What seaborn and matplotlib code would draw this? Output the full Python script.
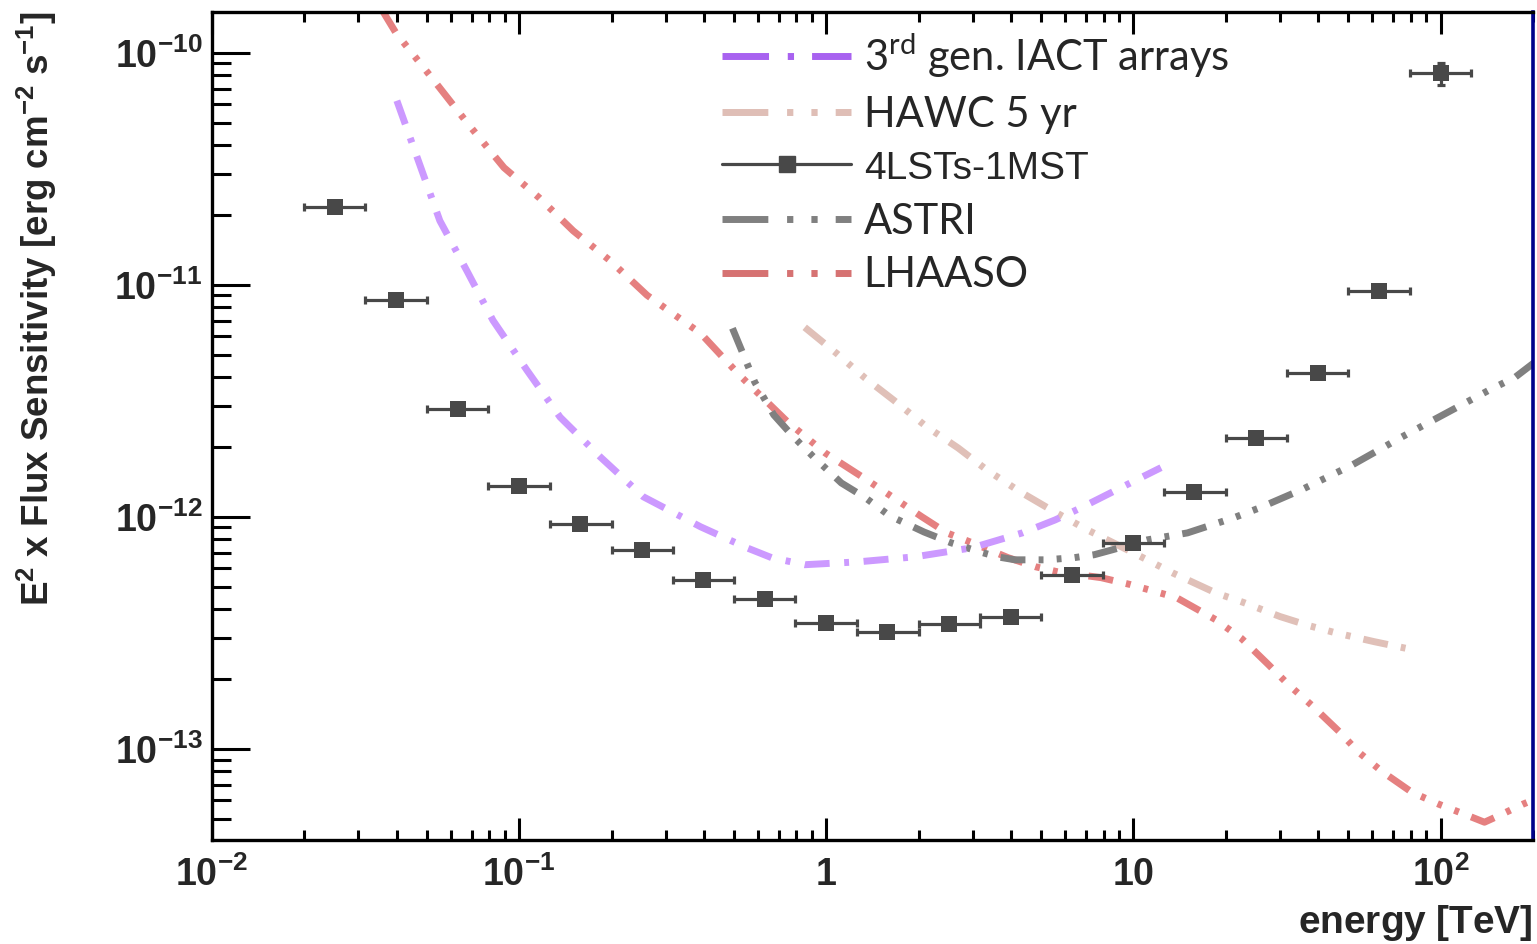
import numpy as np
import pandas as pd
import matplotlib
matplotlib.use("Agg")
import matplotlib.pyplot as plt
from matplotlib.lines import Line2D
from matplotlib.ticker import NullFormatter, LogLocator
import seaborn as sns

# ---------------- data ----------------
# 4LSTs-1MST: differential sensitivity, 5 bins per decade (energy in TeV)
lst_energy = [0.0251, 0.0398, 0.0631, 0.100, 0.158, 0.251, 0.398, 0.631, 1.00, 1.58,
              2.51, 3.98, 6.31, 10.0, 15.8, 25.1, 39.8, 63.1, 100.0]
lst_e_low = [0.0200, 0.0316, 0.0501, 0.0794, 0.126, 0.200, 0.316, 0.501, 0.794, 1.26,
             2.00, 3.16, 5.01, 7.94, 12.6, 20.0, 31.6, 50.1, 79.4]
lst_e_high = [0.0316, 0.0501, 0.0794, 0.126, 0.200, 0.316, 0.501, 0.794, 1.26, 2.00,
              3.16, 5.01, 7.94, 12.6, 20.0, 31.6, 50.1, 79.4, 126.0]
lst_sens = [2.16e-11, 8.6e-12, 2.92e-12, 1.36e-12, 9.3e-13, 7.2e-13, 5.36e-13, 4.44e-13,
            3.5e-13, 3.2e-13, 3.47e-13, 3.71e-13, 5.6e-13, 7.73e-13, 1.28e-12, 2.19e-12,
            4.17e-12, 9.37e-12, 8.2e-11]
lst_err_low = [0, 0, 0, 0, 0, 0, 0, 0, 0, 0, 0, 0, 0, 0, 0, 0, 0, 0, 0.92e-11]
lst_err_high = [0, 0, 0, 0, 0, 0, 0, 0, 0, 0, 0, 0, 0, 0, 0, 0, 0, 0, 0.86e-11]

# 3rd generation IACT arrays
iact_energy = [0.0400, 0.0552, 0.0676, 0.0822, 0.106, 0.136, 0.184, 0.254, 0.390, 0.551,
               0.664, 0.851, 1.27, 1.95, 2.99, 4.35, 5.56, 6.71, 9.77, 12.3]
iact_sens = [6.22e-11, 1.89e-11, 1.15e-11, 7.03e-12, 4.29e-12, 2.69e-12, 1.81e-12, 1.22e-12,
             9.06e-13, 7.36e-13, 6.67e-13, 6.22e-13, 6.40e-13, 6.73e-13, 7.36e-13, 8.53e-13,
             9.70e-13, 1.09e-12, 1.40e-12, 1.63e-12]

# HAWC 5 yr
hawc_energy = [0.851, 1.08, 1.34, 1.66, 2.11, 2.69, 3.34, 4.25, 5.41, 7.08, 10.0, 13.4,
               18.5, 22.9, 30.0, 37.2, 45.3, 60.7, 80.7]
hawc_sens = [6.56e-12, 5.07e-12, 3.96e-12, 3.18e-12, 2.46e-12, 1.98e-12, 1.59e-12, 1.29e-12,
             1.07e-12, 8.79e-13, 7.0e-13, 5.74e-13, 4.71e-13, 4.27e-13, 3.72e-13, 3.40e-13,
             3.17e-13, 2.90e-13, 2.68e-13]

# ASTRI
astri_energy = [0.495, 0.538, 0.585, 0.675, 0.783, 0.910, 1.12, 1.34, 1.61, 2.08, 2.55, 3.17,
                3.60, 4.12, 5.20, 6.41, 7.46, 8.53, 11.1, 15.0, 21.2, 25.6, 35.3, 51.4, 74.8,
                144.0, 175.0, 203.0]
astri_sens = [6.50e-12, 4.98e-12, 3.81e-12, 2.75e-12, 2.21e-12, 1.81e-12, 1.40e-12, 1.21e-12,
              1.01e-12, 8.61e-13, 7.73e-13, 7.06e-13, 6.73e-13, 6.53e-13, 6.53e-13, 6.67e-13,
              6.87e-13, 7.21e-13, 7.96e-13, 8.53e-13, 9.91e-13, 1.09e-12, 1.31e-12, 1.67e-12,
              2.21e-12, 3.52e-12, 4.00e-12, 4.65e-12]

# LHAASO
lhaaso_energy = [0.0359, 0.0397, 0.0520, 0.0681, 0.0893, 0.116, 0.150, 0.198, 0.261, 0.390,
                 0.522, 0.750, 0.995, 1.36, 1.61, 2.05, 2.47, 2.99, 3.91, 4.79, 5.69, 7.85,
                 9.77, 13.8, 18.5, 22.5, 27.5, 32.0, 38.1, 46.7, 54.2, 64.4, 80.7, 98.9,
                 120.0, 139.0, 158.0, 185.0, 203.0]
lhaaso_sens = [1.52e-10, 1.22e-10, 7.80e-11, 4.95e-11, 3.20e-11, 2.38e-11, 1.71e-11, 1.27e-11,
               9.02e-12, 6.18e-12, 4.08e-12, 2.56e-12, 1.88e-12, 1.44e-12, 1.24e-12, 1.0e-12,
               8.53e-13, 7.73e-13, 6.67e-13, 6.10e-13, 5.79e-13, 5.47e-13, 5.11e-13, 4.49e-13,
               3.61e-13, 2.99e-13, 2.31e-13, 1.89e-13, 1.54e-13, 1.19e-13, 9.66e-14, 8.0e-14,
               6.50e-14, 5.77e-14, 5.22e-14, 4.83e-14, 5.22e-14, 5.77e-14, 6.07e-14]

x_ticks = [0.01, 0.1, 1, 10, 100]
x_ticklabels = [r"$\mathbf{10^{-2}}$", r"$\mathbf{10^{-1}}$", r"$\mathbf{1}$",
                r"$\mathbf{10}$", r"$\mathbf{10^{2}}$"]
y_ticks = [1e-13, 1e-12, 1e-11, 1e-10]
y_ticklabels = [r"$\mathbf{10^{-13}}$", r"$\mathbf{10^{-12}}$", r"$\mathbf{10^{-11}}$",
                r"$\mathbf{10^{-10}}$"]

legend_labels = [r"3$^{\rm rd}$ gen. IACT arrays", "HAWC 5 yr", "4LSTs-1MST", "ASTRI", "LHAASO"]

# ---------------- style ----------------
sns.set_theme(style="ticks")
plt.rcParams["font.family"] = ["Liberation Sans", "DejaVu Sans"]
plt.rcParams["mathtext.fontset"] = "custom"
plt.rcParams["mathtext.rm"] = "Lato"
plt.rcParams["mathtext.it"] = "Lato:italic"
plt.rcParams["mathtext.bf"] = "Liberation Sans:bold"

C_IACT, C_IACT_LEG = "#cc99ff", "#a862f0"
C_HAWC, C_HAWC_LEG = "#e0c0b8", "#dfbeb6"
C_ASTRI = "#808080"
C_LHAASO, C_LHAASO_LEG = "#e58080", "#d67272"
C_LST = "#484848"

LW = 5.0
dash_dot = (0, (3.6, 2.1, 0.7, 2.1))
dash_3dot = (0, (3.6, 1.9, 0.7, 1.9, 0.7, 1.9, 0.7, 1.9))

fig = plt.figure(figsize=(15.37, 9.44), dpi=100)
ax = fig.add_axes([0.1379, 0.1102, 0.8595, 0.8771])
ax.set_xscale("log")
ax.set_yscale("log")
ax.set_xlim(0.01, 200)
ax.set_ylim(4.05e-14, 1.5e-10)


def curve(energy, sens, color, style):
    df = pd.DataFrame({"energy": energy, "sens": sens})
    sns.lineplot(data=df, x="energy", y="sens", ax=ax, sort=False, estimator=None,
                 color=color, lw=LW, legend=False)
    line = ax.lines[-1]
    line.set_linestyle(style)
    line.set_dash_capstyle("butt")


curve(lhaaso_energy, lhaaso_sens, C_LHAASO, dash_3dot)
curve(hawc_energy, hawc_sens, C_HAWC, dash_3dot)
curve(astri_energy, astri_sens, C_ASTRI, dash_3dot)
curve(iact_energy, iact_sens, C_IACT, dash_dot)

# 4LSTs-1MST points with energy-bin bars
e = np.array(lst_energy)
s = np.array(lst_sens)
xerr = [e - np.array(lst_e_low), np.array(lst_e_high) - e]
yerr = [np.array(lst_err_low), np.array(lst_err_high)]
ax.errorbar(e, s, xerr=xerr, yerr=yerr, fmt="none", ecolor=C_LST, elinewidth=2.3,
            capsize=2.6, capthick=2.3, zorder=4)
sns.scatterplot(x=e, y=s, ax=ax, marker="s", s=125, color=C_LST, linewidth=0,
                zorder=5, legend=False)

# ---------------- axes ----------------
ax.set_xticks(x_ticks)
ax.set_xticklabels(x_ticklabels, fontsize=27)
ax.set_yticks(y_ticks)
ax.set_yticklabels(y_ticklabels, fontsize=27)
ax.xaxis.set_minor_locator(LogLocator(base=10, subs=np.arange(2, 10), numticks=20))
ax.yaxis.set_minor_locator(LogLocator(base=10, subs=np.arange(2, 10), numticks=20))
ax.xaxis.set_minor_formatter(NullFormatter())
ax.yaxis.set_minor_formatter(NullFormatter())

ax.tick_params(axis="both", which="both", direction="in", top=True, right=False,
               width=2.2, color="black")
ax.tick_params(axis="y", which="major", length=27, pad=7)
ax.tick_params(axis="y", which="minor", length=14)
ax.tick_params(axis="x", which="major", length=16, pad=12)
ax.tick_params(axis="x", which="minor", length=7.5)

for side in ["left", "bottom", "top"]:
    ax.spines[side].set_color("black")
    ax.spines[side].set_linewidth(2.4)
ax.spines["right"].set_color("#00008b")
ax.spines["right"].set_linewidth(2.6)

ax.set_xlabel(r"$\mathbf{energy\ [TeV]}$", fontsize=28, loc="right", labelpad=6)
ax.set_ylabel(r"$\mathbf{E^{2}\ x\ Flux\ Sensitivity\ [erg\ cm^{-2}\ s^{-1}]}$",
              fontsize=26.5, loc="top", labelpad=40)

# ---------------- legend ----------------
handles = [
    Line2D([], [], color=C_IACT_LEG, lw=LW, linestyle=(0, (6.7, 2.7, 0.9, 2.6))),
    Line2D([], [], color=C_HAWC_LEG, lw=LW, linestyle=(0, (6.6, 2.7, 0.9, 2.6, 0.9, 2.6))),
    Line2D([], [], color=C_LST, lw=2.3, marker="s", markersize=11),
    Line2D([], [], color=C_ASTRI, lw=LW, linestyle=(0, (6.6, 2.7, 0.9, 2.6, 0.9, 2.6))),
    Line2D([], [], color=C_LHAASO_LEG, lw=LW, linestyle=(0, (6.6, 2.7, 0.9, 2.6, 0.9, 2.6))),
]
leg = ax.legend(handles, legend_labels, loc="upper left",
                bbox_to_anchor=((722 - 212) / 1321, 0.976), frameon=False,
                prop={"family": "Lato", "size": 30}, handlelength=3.1,
                handletextpad=0.3, labelspacing=0.38, borderpad=0, borderaxespad=0)
leg.get_texts()[2].set_fontfamily("Liberation Sans")
leg.get_texts()[2].set_fontsize(28)

fig.savefig("out.png", dpi=100)
